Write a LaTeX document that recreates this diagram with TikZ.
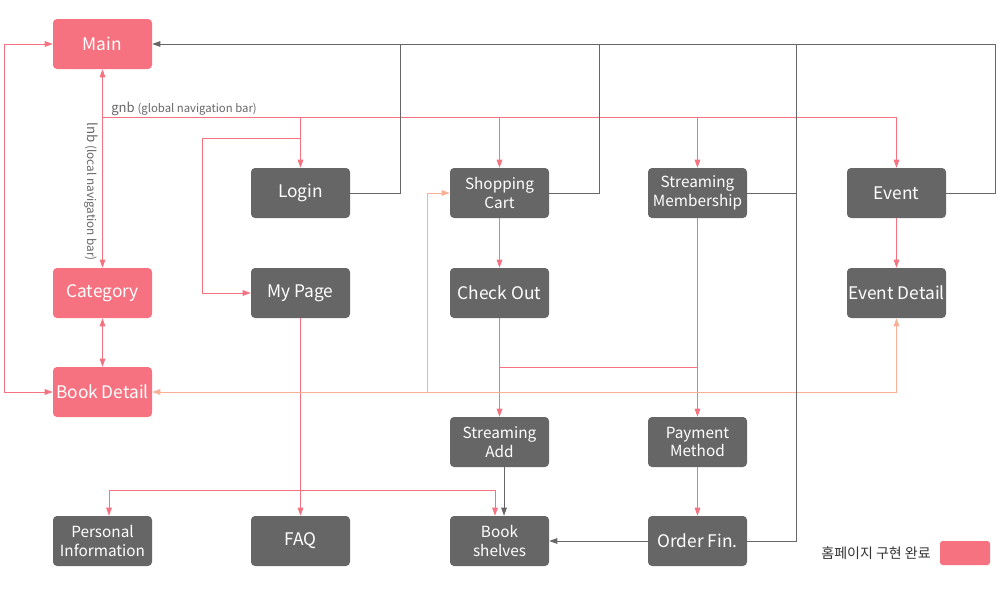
\documentclass[tikz,border=0pt]{standalone}
\usepackage{fontspec}
\setmainfont{Noto Sans CJK KR}
\usetikzlibrary{arrows.meta}
\definecolor{pk}{HTML}{F67280}
\definecolor{gy}{HTML}{666666}
\definecolor{pc}{HTML}{F8B195}
\begin{document}
\begin{tikzpicture}[x=0.75pt,y=-0.75pt,
  box/.style={rounded corners=3pt, minimum width=74.25pt, minimum height=37.5pt, inner sep=0pt, text=white, font=\fontsize{13}{15}\selectfont, align=center},
  pbox/.style={box, fill=pk},
  gbox/.style={box, fill=gy},
  two/.style={font=\fontsize{11.5}{14}\selectfont},
  tip/.style={-{Triangle[length=6pt,width=4.2pt]}},
  both/.style={{Triangle[length=6pt,width=4.2pt]}-{Triangle[length=6pt,width=4.2pt]}},
  pl/.style={draw=pk, line width=0.65pt},
  gl/.style={draw=gy, line width=0.65pt},
  cl/.style={draw=pc, line width=0.65pt},
  lbl/.style={text=gy, inner sep=0pt}
]
\useasboundingbox (0,0) rectangle (1000,600);
% nodes
\node[pbox] (main) at (102.5,44) {Main};
\node[pbox] (cat) at (102.5,293) {Category};
\node[pbox] (bd) at (102.5,392) {Book Detail};
\node[gbox] (login) at (300.5,193) {Login};
\node[gbox] (mp) at (300.5,293) {My Page};
\node[gbox] (faq) at (300.5,541) {FAQ};
\node[gbox,two] (cart) at (499.5,193) {Shopping\\Cart};
\node[gbox] (co) at (499.5,293) {Check Out};
\node[gbox,two] (sa) at (499.5,442) {Streaming\\Add};
\node[gbox,two] (bs) at (499.5,541) {Book\\shelves};
\node[gbox,two] (sm) at (697.5,193) {Streaming\\Membership};
\node[gbox,two] (pm) at (697.5,442) {Payment\\Method};
\node[gbox] (of) at (697.5,541) {Order Fin.};
\node[gbox] (ev) at (896.5,193) {Event};
\node[gbox] (ed) at (896.5,293) {Event Detail};
\node[gbox,two] (pi) at (102.5,541) {Personal\\Information};
% legend
\node[fill=pk, rounded corners=2pt, minimum width=37.5pt, minimum height=18pt, inner sep=0pt] (leg) at (965,553) {};
\node[lbl, anchor=east, text=black!80, font=\fontsize{10.5}{11}\selectfont] (legt) at (931,553) {홈페이지 구현 완료};
% labels
\node[lbl, anchor=base west] (gnb) at (111,112) {\fontsize{9.8}{10}\selectfont gnb \fontsize{8.5}{9}\selectfont(global navigation bar)};
\node[lbl, anchor=west, rotate=-90] (lnb) at (91,122) {\fontsize{10}{10}\selectfont lnb \fontsize{8.8}{9}\selectfont(local navigation bar)};
% coordinates
\coordinate (g0) at (102.5,117);
\coordinate (m0) at (300.5,138);
\coordinate (m1) at (202,138);
\coordinate (m2) at (202,293);
\coordinate (l0) at (4,44);
\coordinate (l1) at (4,392);
\coordinate (h0) at (300.5,490);
\coordinate (h1) at (109,490);
\coordinate (h2) at (495,490);
\coordinate (j0) at (499.5,367);
\coordinate (j1) at (697.5,367);
\coordinate (p0) at (896.5,392);
\coordinate (p1) at (427,392);
\coordinate (p2) at (427,193);
\coordinate (r0) at (995,193);
\coordinate (r1) at (995,44);
\coordinate (a0) at (400,193);
\coordinate (a1) at (400,44);
\coordinate (b0) at (599,193);
\coordinate (b1) at (599,44);
\coordinate (c0) at (796,193);
\coordinate (c1) at (796,541);
\coordinate (c2) at (796,44);
% pink connectors
\draw[pl,both] (main.west) -- (l0) -- (l1) -- (bd.west);
\draw[pl,both] (main.south) -- (cat.north);
\draw[pl,both] (cat.south) -- (bd.north);
\draw[pl,tip] (g0) -| (ev.north);
\draw[pl,tip] (login.north |- g0) -- (login.north);
\draw[pl,tip] (cart.north |- g0) -- (cart.north);
\draw[pl,tip] (sm.north |- g0) -- (sm.north);
\draw[pl,tip] (m0) -- (m1) -- (m2) -- (mp.west);
\draw[pl,tip] (cart.south) -- (co.north);
\draw[pl,tip] (co.south) -- (sa.north);
\draw[pl,tip] (sm.south) -- (pm.north);
\draw[pl] (j0) -- (j1);
\draw[pl,tip] (pm.south) -- (of.north);
\draw[pl,tip] (ev.south) -- (ed.north);
\draw[pl,tip] (mp.south) -- (faq.north);
\draw[pl,tip] (h0) -- (h1) -- (h1 |- pi.north);
\draw[pl,tip] (h0) -- (h2) -- (h2 |- bs.north);
% peach connectors
\draw[cl,tip] (p0) -- (ed.south);
\draw[cl,tip] (p0) -- (bd.east);
\draw[cl,tip] (p1) -- (p2) -- (cart.west);
% grey connectors
\draw[gl,tip] (ev.east) -- (r0) -- (r1) -- (main.east);
\draw[gl] (login.east) -- (a0) -- (a1);
\draw[gl] (cart.east) -- (b0) -- (b1);
\draw[gl] (sm.east) -- (c0);
\draw[gl] (of.east) -- (c1) -- (c2);
\draw[gl,tip] ([xshift=3.4pt]sa.south) -- ([xshift=3.4pt]bs.north);
\draw[gl,tip] (of.west) -- (bs.east);
\end{tikzpicture}
\end{document}
